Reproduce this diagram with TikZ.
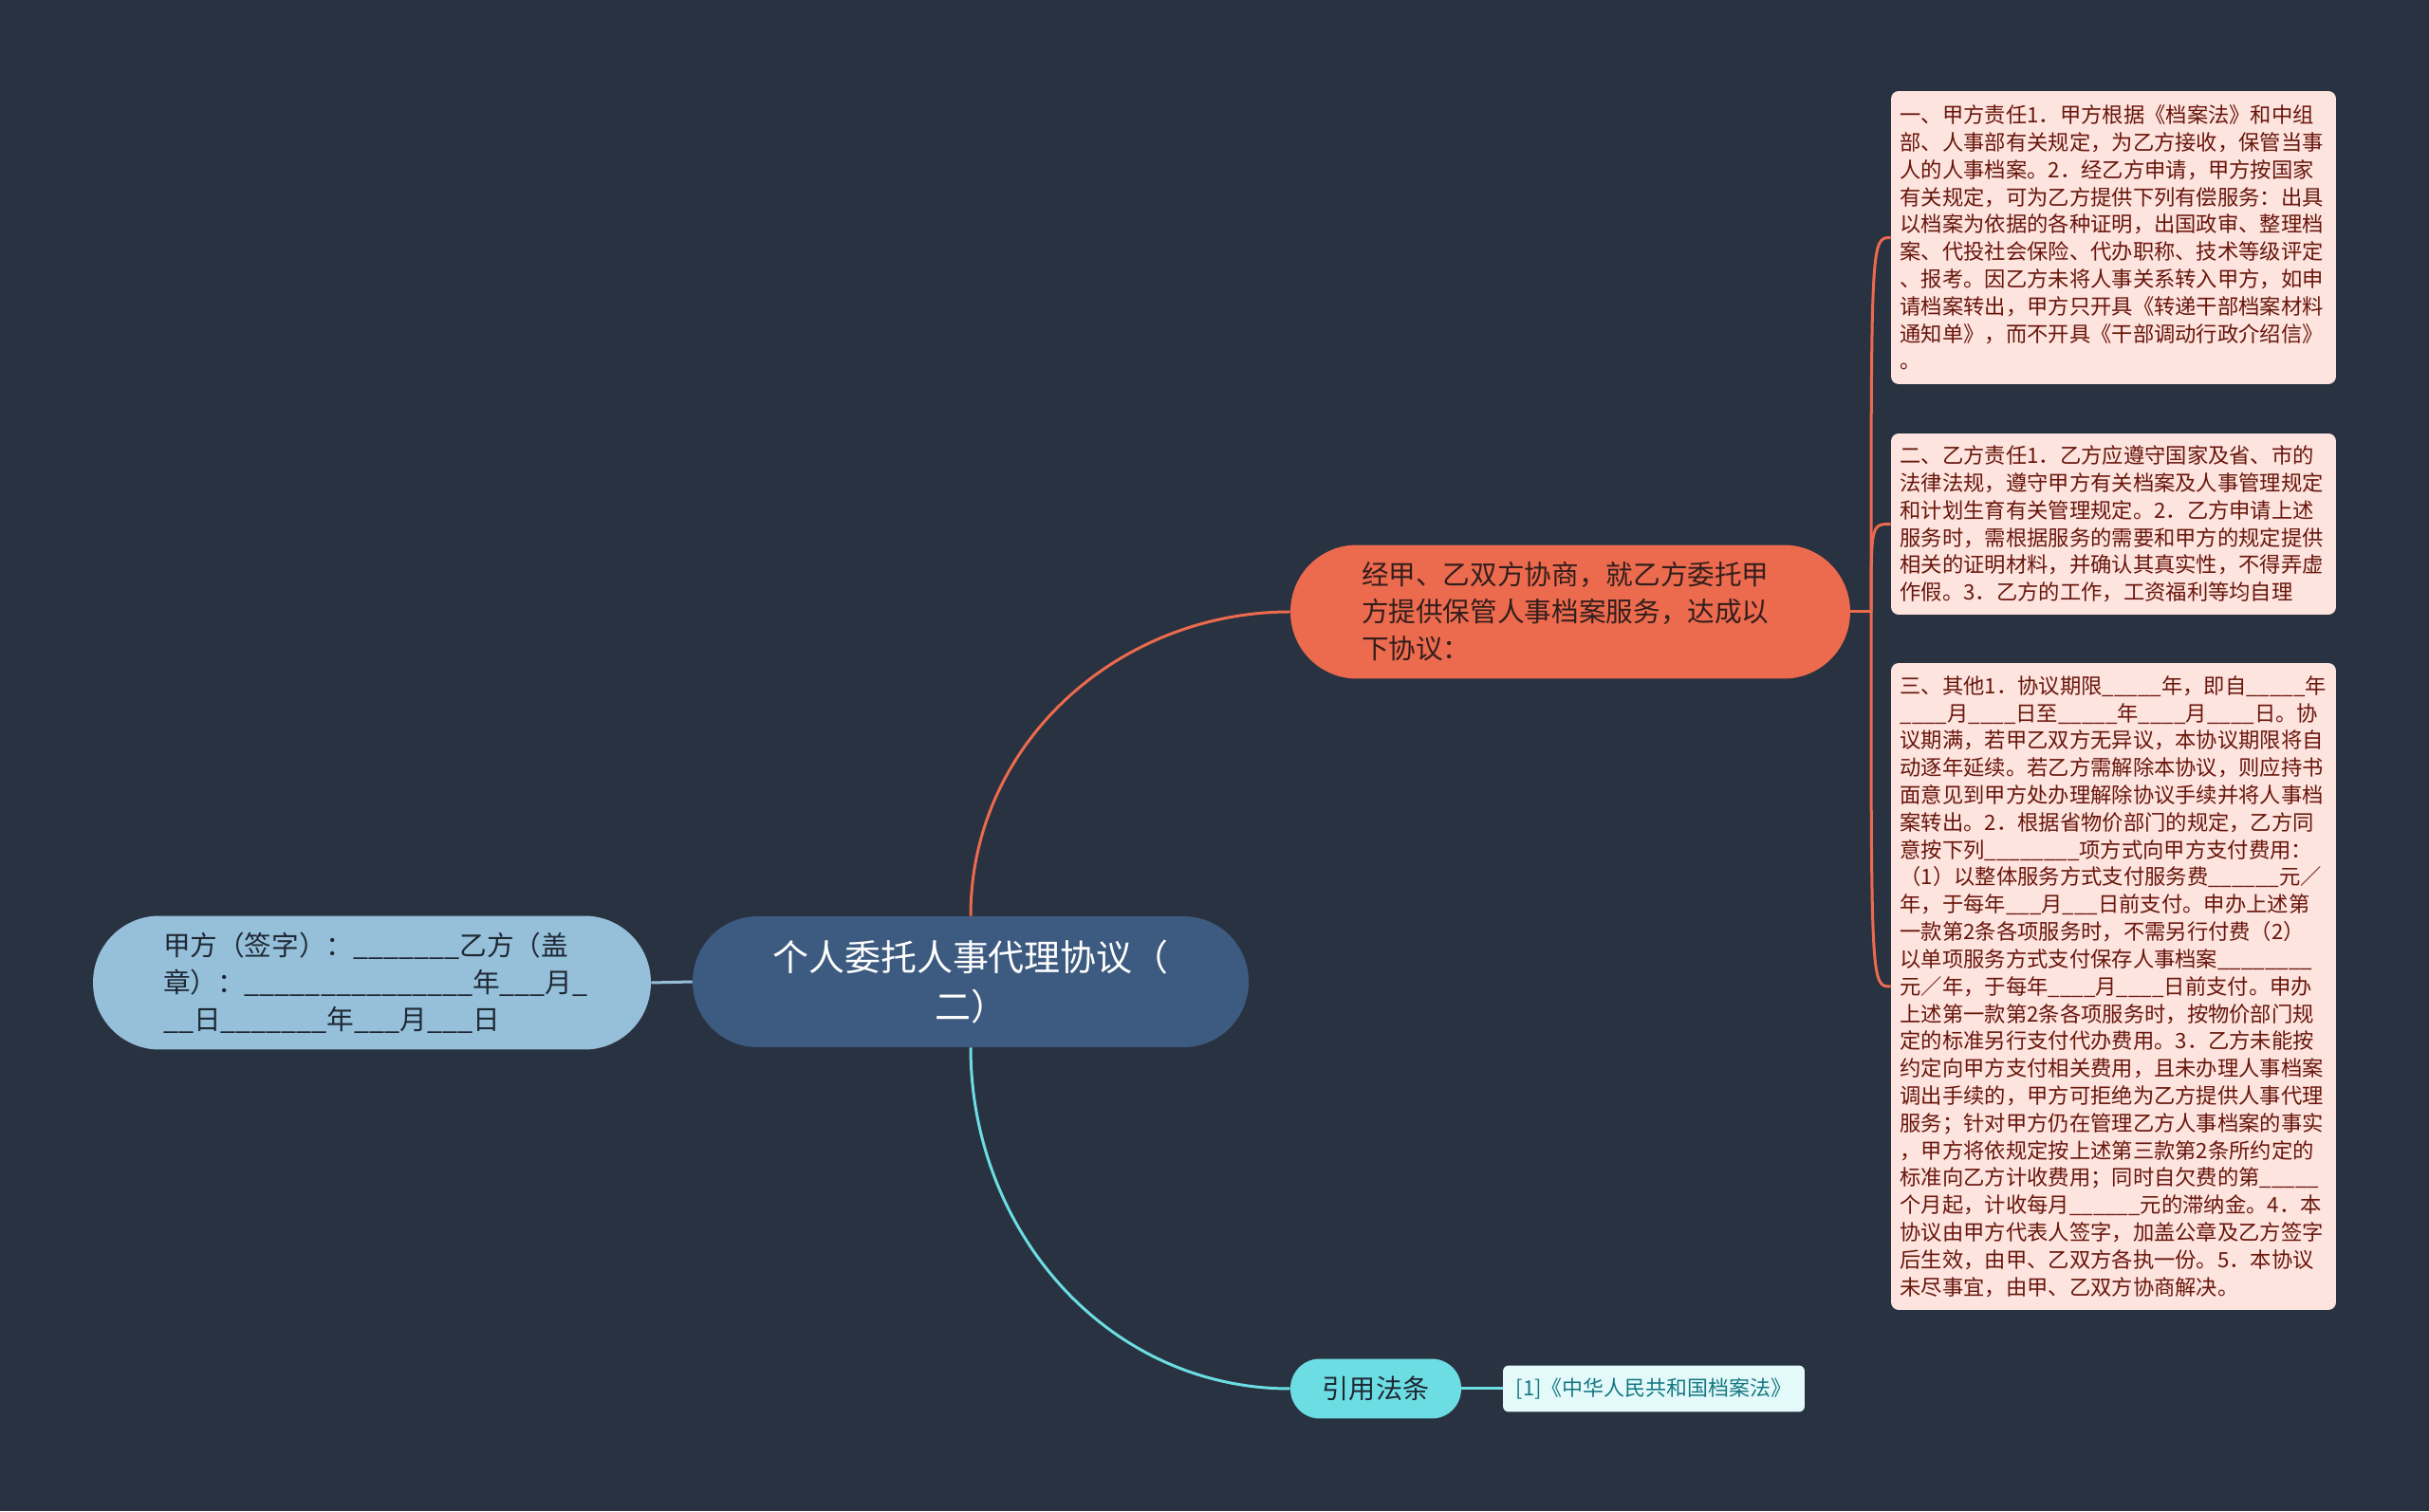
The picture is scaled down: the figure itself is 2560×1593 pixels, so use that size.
\documentclass[tikz,border=0pt]{standalone}
\usepackage{fontspec}
\newfontfamily\cjk{Noto Sans CJK SC}
\definecolor{bgnavy}{RGB}{41,50,65}
\definecolor{rootblue}{RGB}{61,91,128}
\definecolor{coral}{RGB}{236,106,77}
\definecolor{coraltext}{RGB}{50,30,28}
\definecolor{skyblue}{RGB}{150,192,218}
\definecolor{signtext}{RGB}{30,40,52}
\definecolor{aqua}{RGB}{108,221,226}
\definecolor{blush}{RGB}{253,228,222}
\definecolor{rust}{RGB}{105,22,12}
\definecolor{mint}{RGB}{228,250,250}
\definecolor{lawtext}{RGB}{20,120,130}
\tikzset{
  rootnode/.style={fill=rootblue,text=white,minimum width=11.72cm,minimum height=2.76cm,
    rounded corners=1.37cm,align=center,font=\cjk\fontsize{21.6}{29.6}\selectfont},
  topic/.style={minimum width=11.8cm,minimum height=2.82cm,rounded corners=1.4cm,
    text width=8.8cm,align=left,font=\cjk\fontsize{16.3}{22.2}\selectfont},
  citenode/.style={fill=aqua,text=signtext,minimum width=3.6cm,minimum height=1.26cm,
    rounded corners=0.62cm,font=\cjk\fontsize{16}{20}\selectfont},
  detail/.style={fill=blush,text=rust,rounded corners=0.16cm,text width=9.0cm,
    inner xsep=0.19cm,inner ysep=0.2cm,align=left,font=\cjk\fontsize{12.7}{16.4}\selectfont},
  lawbox/.style={fill=mint,text=lawtext,minimum width=6.36cm,minimum height=0.98cm,
    rounded corners=0.12cm,font=\cjk\fontsize{12.5}{16}\selectfont},
  link/.style={draw=#1,line width=0.06cm}
}
\begin{document}
\catcode`\_=12
\begin{tikzpicture}[x=0.02cm,y=0.02cm]
  \fill[bgnavy] (0,0) rectangle (2560,1593);
  % centre and main topics
  \node[rootnode] (root) at (1023,558) {个人委托人事代理协议（\\二）};
  \node[topic,fill=coral,text=coraltext] (intro) at (1655,948)
    {经甲、乙双方协商，就乙方委托甲\\方提供保管人事档案服务，达成以\\下协议：};
  \node[topic,fill=skyblue,text=signtext,minimum width=11.76cm] (sign) at (392,557)
    {甲方（签字）：_______乙方（盖\\章）：_______________年___月_\\__日_______年___月___日};
  \node[citenode] (cite) at (1450,129) {引用法条};
  % details
  \node[detail,minimum height=6.18cm] (duty1) at (2227.5,1342.5)
    {一、甲方责任1．甲方根据《档案法》和中组\\
     部、人事部有关规定，为乙方接收，保管当事\\
     人的人事档案。2．经乙方申请，甲方按国家\\
     有关规定，可为乙方提供下列有偿服务：出具\\
     以档案为依据的各种证明，出国政审、整理档\\
     案、代投社会保险、代办职称、技术等级评定\\
     、报考。因乙方未将人事关系转入甲方，如申\\
     请档案转出，甲方只开具《转递干部档案材料\\
     通知单》，而不开具《干部调动行政介绍信》\\
     。};
  \node[detail,minimum height=3.82cm] (duty2) at (2227.5,1040.5)
    {二、乙方责任1．乙方应遵守国家及省、市的\\
     法律法规，遵守甲方有关档案及人事管理规定\\
     和计划生育有关管理规定。2．乙方申请上述\\
     服务时，需根据服务的需要和甲方的规定提供\\
     相关的证明材料，并确认其真实性，不得弄虚\\
     作假。3．乙方的工作，工资福利等均自理};
  \node[detail,minimum height=13.64cm] (other) at (2227.5,553)
    {三、其他1．协议期限_____年，即自_____年\\
     ____月____日至_____年____月____日。协\\
     议期满，若甲乙双方无异议，本协议期限将自\\
     动逐年延续。若乙方需解除本协议，则应持书\\
     面意见到甲方处办理解除协议手续并将人事档\\
     案转出。2．根据省物价部门的规定，乙方同\\
     意按下列________项方式向甲方支付费用：\\
     （1）以整体服务方式支付服务费______元／\\
     年，于每年___月___日前支付。申办上述第\\
     一款第2条各项服务时，不需另行付费（2）\\
     以单项服务方式支付保存人事档案________\\
     元／年，于每年____月____日前支付。申办\\
     上述第一款第2条各项服务时，按物价部门规\\
     定的标准另行支付代办费用。3．乙方未能按\\
     约定向甲方支付相关费用，且未办理人事档案\\
     调出手续的，甲方可拒绝为乙方提供人事代理\\
     服务；针对甲方仍在管理乙方人事档案的事实\\
     ，甲方将依规定按上述第三款第2条所约定的\\
     标准向乙方计收费用；同时自欠费的第_____\\
     个月起，计收每月______元的滞纳金。4．本\\
     协议由甲方代表人签字，加盖公章及乙方签字\\
     后生效，由甲、乙双方各执一份。5．本协议\\
     未尽事宜，由甲、乙双方协商解决。};
  \node[lawbox] (law) at (1743,129) {[1]《中华人民共和国档案法》};
  % links
  \draw[link=coral] (root.north) to[out=90,in=180] (intro.west);
  \draw[link=aqua] (root.south) to[out=-90,in=180] (cite.west);
  \draw[link=skyblue] (sign.east) -- (root.west);
  \draw[link=aqua] (cite.east) -- (law.west);
  \coordinate (fork) at (1972,948);
  \draw[link=coral] (intro.east) -- (fork);
  \foreach \b in {duty1,duty2,other}
    \draw[link=coral] (fork) .. controls (fork |- \b.west) .. (\b.west);
\end{tikzpicture}
\end{document}
